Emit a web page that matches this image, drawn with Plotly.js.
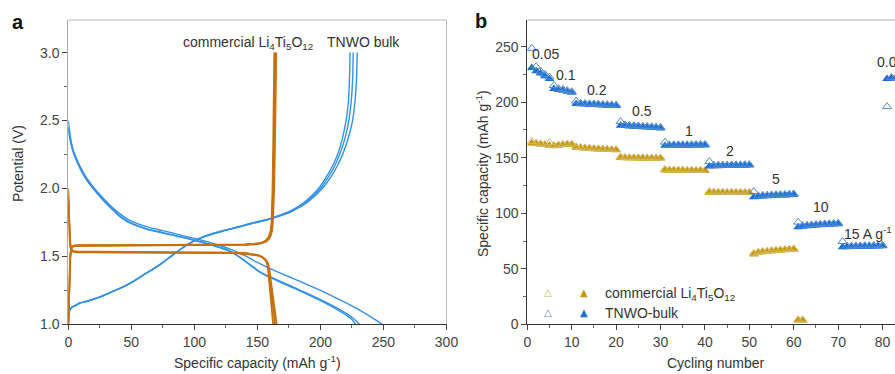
<!DOCTYPE html>
<html><head><meta charset="utf-8">
<script src="https://cdn.plot.ly/plotly-3.0.1.min.js"></script>
<style>html,body{margin:0;padding:0;background:#fff;} #chart{width:895px;height:374px;}</style>
</head><body><div id="chart"></div>
<script>
// ---------- Panel a: galvanostatic curves ----------
// TNWO bulk discharge curves (capacity mAh/g, potential V)
const tnwoD1Cap = [0, 1, 2, 4, 7, 10, 15, 20, 25, 30, 35, 40, 46, 50, 60, 70, 80, 90, 100, 110, 120, 128, 140, 150, 160, 170, 180, 190, 200, 210, 220, 230, 240, 249];
const tnwoD1V   = [2.50, 2.42, 2.36, 2.28, 2.21, 2.15, 2.07, 2.01, 1.955, 1.905, 1.86, 1.82, 1.78, 1.76, 1.725, 1.70, 1.678, 1.655, 1.632, 1.608, 1.58, 1.555, 1.505, 1.455, 1.41, 1.37, 1.33, 1.29, 1.25, 1.205, 1.16, 1.11, 1.055, 1.0];
const tnwoD2Cap = [0, 1, 2, 4, 7, 10, 15, 20, 25, 30, 35, 40, 46, 50, 60, 70, 80, 90, 100, 110, 120, 128, 135, 140, 145, 150, 155, 160, 170, 180, 190, 200, 207, 214, 220, 225, 228];
const tnwoD2V   = [2.45, 2.39, 2.34, 2.27, 2.20, 2.14, 2.06, 2.00, 1.945, 1.895, 1.85, 1.805, 1.765, 1.745, 1.71, 1.685, 1.664, 1.643, 1.62, 1.595, 1.567, 1.54, 1.50, 1.465, 1.43, 1.395, 1.368, 1.345, 1.302, 1.262, 1.218, 1.175, 1.142, 1.105, 1.07, 1.035, 1.0];
const tnwoD3Cap = [0, 1, 2, 4, 7, 10, 15, 20, 25, 30, 35, 40, 46, 50, 60, 70, 80, 90, 100, 110, 120, 128, 135, 140, 145, 150, 155, 160, 170, 180, 190, 200, 207, 214, 220, 226, 231];
const tnwoD3V   = [2.44, 2.38, 2.335, 2.265, 2.195, 2.135, 2.055, 1.995, 1.94, 1.89, 1.845, 1.80, 1.76, 1.742, 1.707, 1.682, 1.661, 1.64, 1.617, 1.592, 1.564, 1.538, 1.50, 1.468, 1.435, 1.40, 1.372, 1.35, 1.308, 1.268, 1.225, 1.182, 1.15, 1.115, 1.082, 1.045, 1.0];
// TNWO bulk charge curves
const tnwoC1Cap = [0, 0.5, 1, 3, 6, 9, 15, 25, 35, 48.7, 60, 72.4, 80, 88.2, 95, 104, 115, 125, 135.6, 145, 156.6, 165, 175, 183, 190, 198.5, 205, 209.3, 214, 217.2, 220, 222, 223, 223.5];
const tnwoC1V   = [1.03, 1.08, 1.10, 1.125, 1.14, 1.155, 1.17, 1.20, 1.24, 1.30, 1.365, 1.437, 1.49, 1.547, 1.59, 1.633, 1.67, 1.695, 1.72, 1.745, 1.77, 1.795, 1.83, 1.87, 1.92, 2.00, 2.09, 2.16, 2.26, 2.36, 2.48, 2.62, 2.80, 3.0];
const tnwoC2Cap = [0, 0.5, 1, 3, 6, 9, 15, 25, 35, 48.7, 60, 72.4, 80, 88.2, 95, 104, 115, 125, 135.6, 145, 156.6, 165, 175, 183, 190, 200, 206, 211, 216, 219.5, 222.5, 224.5, 225.5, 226];
const tnwoC2V   = [1.04, 1.085, 1.10, 1.125, 1.14, 1.155, 1.17, 1.20, 1.24, 1.30, 1.365, 1.437, 1.49, 1.547, 1.59, 1.633, 1.668, 1.693, 1.718, 1.742, 1.767, 1.792, 1.825, 1.865, 1.91, 2.00, 2.08, 2.16, 2.27, 2.37, 2.50, 2.65, 2.80, 3.0];
const tnwoC3Cap = [0, 0.5, 1, 3, 6, 9, 15, 25, 35, 48.7, 60, 72.4, 80, 88.2, 95, 104, 115, 125, 135.6, 145, 156.6, 165, 175, 183, 190, 201.5, 208, 213, 218, 222, 225.5, 227.5, 228.6, 229.2];
const tnwoC3V   = [1.045, 1.09, 1.105, 1.128, 1.142, 1.157, 1.172, 1.202, 1.242, 1.302, 1.367, 1.438, 1.49, 1.546, 1.589, 1.631, 1.666, 1.691, 1.716, 1.74, 1.765, 1.79, 1.82, 1.86, 1.90, 2.00, 2.08, 2.16, 2.26, 2.37, 2.50, 2.65, 2.80, 3.0];
// commercial Li4Ti5O12 discharge curves
const ltoD1Cap = [0, 0.4, 0.8, 1.2, 1.8, 2.5, 3.5, 5, 8, 20, 50, 80, 110, 130, 141, 147, 151, 154, 156, 157.5, 158.3, 159, 160, 161, 162.5];
const ltoD1V   = [2.0, 1.85, 1.72, 1.62, 1.57, 1.55, 1.54, 1.537, 1.535, 1.535, 1.534, 1.533, 1.531, 1.528, 1.523, 1.517, 1.508, 1.495, 1.478, 1.455, 1.42, 1.35, 1.25, 1.14, 1.0];
const ltoD2Cap = [0, 0.4, 0.8, 1.2, 1.8, 2.5, 3.5, 5, 8, 20, 50, 80, 110, 130, 141, 147, 151, 154, 156.5, 158, 159, 159.8, 161, 162.2, 164];
const ltoD2V   = [1.95, 1.82, 1.70, 1.61, 1.565, 1.548, 1.538, 1.534, 1.532, 1.532, 1.531, 1.53, 1.529, 1.526, 1.521, 1.515, 1.507, 1.494, 1.475, 1.45, 1.41, 1.34, 1.24, 1.13, 1.0];
const ltoD3Cap = [0, 0.4, 0.8, 1.2, 1.8, 2.5, 3.5, 5, 8, 20, 50, 80, 110, 130, 141, 147, 151, 154, 157, 158.6, 159.6, 160.5, 161.8, 163.2, 165.3];
const ltoD3V   = [1.9, 1.8, 1.69, 1.60, 1.56, 1.545, 1.536, 1.532, 1.530, 1.530, 1.529, 1.528, 1.527, 1.524, 1.519, 1.513, 1.505, 1.492, 1.47, 1.445, 1.40, 1.33, 1.23, 1.12, 1.0];
// commercial Li4Ti5O12 charge curves
const ltoC1Cap = [0, 0.3, 0.6, 1, 1.5, 2.2, 3, 5, 10, 40, 80, 110, 130, 140, 148, 153, 156, 158, 159.5, 160.5, 161.2, 161.6, 162, 162.5, 163, 163.4];
const ltoC1V   = [1.0, 1.12, 1.25, 1.38, 1.50, 1.56, 1.575, 1.58, 1.582, 1.583, 1.584, 1.585, 1.587, 1.589, 1.593, 1.60, 1.612, 1.63, 1.655, 1.69, 1.75, 1.85, 2.0, 2.3, 2.65, 3.0];
const ltoC2Cap = [0, 0.3, 0.6, 1, 1.5, 2.2, 3, 5, 10, 40, 80, 110, 130, 140, 148, 153, 156.5, 158.5, 160, 161, 161.7, 162.2, 162.6, 163.1, 163.7, 164.2];
const ltoC2V   = [1.0, 1.11, 1.24, 1.37, 1.49, 1.555, 1.572, 1.578, 1.58, 1.581, 1.582, 1.583, 1.585, 1.587, 1.591, 1.598, 1.61, 1.628, 1.652, 1.688, 1.75, 1.85, 2.0, 2.3, 2.65, 3.0];
const ltoC3Cap = [0, 0.3, 0.6, 1, 1.5, 2.2, 3, 5, 10, 40, 80, 110, 130, 140, 148, 153, 157, 159, 160.5, 161.6, 162.3, 162.8, 163.3, 163.9, 164.5, 165];
const ltoC3V   = [1.0, 1.10, 1.23, 1.36, 1.48, 1.55, 1.57, 1.576, 1.578, 1.579, 1.58, 1.581, 1.583, 1.585, 1.589, 1.596, 1.61, 1.627, 1.65, 1.686, 1.75, 1.85, 2.0, 2.3, 2.65, 3.0];

// ---------- Panel b: rate performance ----------
const tnwoCycles = [1,2,3,4,5,6,7,8,9,10,11,12,13,14,15,16,17,18,19,20,21,22,23,24,25,26,27,28,29,30,31,32,33,34,35,36,37,38,39,40,41,42,43,44,45,46,47,48,49,50,51,52,53,54,55,56,57,58,59,60,61,62,63,64,65,66,67,68,69,70,71,72,73,74,75,76,77,78,79,80,81,82,83,84,85];
const tnwoFilled = [
  231, 228, 226, 223.5, 221,
  212, 211, 210.5, 209.5, 208.5,
  198.5, 198.2, 198, 197.8, 197.6, 197.4, 197.2, 197, 196.8, 196.6,
  179, 178.6, 178.3, 178, 177.8, 177.5, 177.3, 177, 176.8, 176.5,
  160.8, 160.8, 160.9, 160.9, 161, 161, 161.1, 161.1, 161.2, 161.2,
  142.3, 142.4, 142.5, 142.6, 142.6, 142.7, 142.8, 142.8, 142.9, 143,
  114.5, 115, 115.3, 115.5, 115.7, 115.9, 116, 116.2, 116.4, 116.6,
  87.5, 88, 88.4, 88.7, 89, 89.3, 89.6, 89.8, 90, 90.3,
  69.5, 69.6, 69.7, 69.8, 69.9, 70, 70, 70.1, 70.2, 70.3,
  221, 221.5, 221.5, 221.6, 221.6];
const tnwoOpen = [
  248.5, 232, 228, 225, 222.5,
  215, 212.2, 211.5, 210.5, 209.5,
  201, 199, 198.8, 198.6, 198.4, 198.2, 198, 197.8, 197.6, 197.4,
  182.5, 179.5, 179.1, 178.8, 178.6, 178.3, 178.1, 177.8, 177.6, 177.3,
  164, 161.6, 161.6, 161.7, 161.7, 161.8, 161.8, 161.9, 161.9, 162,
  146.5, 143.2, 143.3, 143.4, 143.4, 143.5, 143.6, 143.6, 143.7, 143.8,
  119.5, 115.8, 116.1, 116.3, 116.5, 116.7, 116.8, 117, 117.2, 117.4,
  92, 88.8, 89.2, 89.5, 89.8, 90.1, 90.4, 90.6, 90.8, 91.1,
  74.5, 70.4, 70.5, 70.6, 70.7, 70.8, 70.8, 70.9, 71, 71.1,
  196, 222.3, 222.3, 222.4, 222.4];
const ltoCycles = [1,2,3,4,5,6,7,8,9,10,11,12,13,14,15,16,17,18,19,20,21,22,23,24,25,26,27,28,29,30,31,32,33,34,35,36,37,38,39,40,41,42,43,44,45,46,47,48,49,50,51,52,53,54,55,56,57,58,59,60,61,62];
const ltoFilled = [
  163, 162.5, 162, 161.5, 161,
  160.5, 161, 161.5, 161.8, 161.8,
  159, 158.7, 158.4, 158.1, 157.8, 157.6, 157.4, 157.2, 157, 156.8,
  149.8, 149.7, 149.6, 149.6, 149.5, 149.5, 149.4, 149.4, 149.3, 149.3,
  138.6, 138.5, 138.5, 138.4, 138.4, 138.3, 138.3, 138.2, 138.2, 138.1,
  118.6, 118.6, 118.5, 118.5, 118.5, 118.4, 118.4, 118.4, 118.3, 118.3,
  63, 64.5, 65, 65.4, 65.8, 66.2, 66.5, 66.8, 67.1, 67.4,
  3.5, 3.5];
const ltoOpen = [
  164.5, 163, 162.5, 162, 163.5,
  161, 161.5, 162, 162.3, 162.3,
  159.8, 159.2, 158.9, 158.6, 158.3, 158.1, 157.9, 157.7, 157.5, 157.3,
  150.8, 150.2, 150.1, 150.1, 150, 150, 149.9, 149.9, 149.8, 149.8,
  139.5, 139, 139, 138.9, 138.9, 138.8, 138.8, 138.7, 138.7, 138.6,
  119.5, 119.1, 119, 119, 119, 118.9, 118.9, 118.9, 118.8, 118.8,
  64, 65, 65.5, 65.9, 66.3, 66.7, 67, 67.3, 67.6, 67.9,
  4, 4];
// current density labels (A g-1) and where they sit (cycle, capacity)
const rateLabels = ['0.05', '0.1', '0.2', '0.5', '1', '2', '5', '10'];
const rateLabelX = [4.2, 8.7, 15.7, 25.9, 36.3, 45.7, 56.0, 66.1];
const rateLabelY = [243.2, 224.3, 210.7, 191.8, 174, 156, 130.4, 105.2];

// ---------- styling ----------
const FONT = 'Liberation Sans, Arial, Helvetica, sans-serif';
const BLUE_A = 'rgb(52,145,232)';
const ORANGE_A = 'rgb(200,112,12)';
const BLUE_F = 'rgb(28,110,214)';
const BLUE_O = 'rgb(80,140,205)';
const GOLD_F = 'rgb(204,150,0)';
const GOLD_O = 'rgb(206,186,110)';
const W = 895, H = 374;
function px(x) { return x / W; }
function py(y) { return 1 - y / H; }

function lineTrace(xs, ys, color, width, shape) {
  return {type: 'scatter', mode: 'lines', x: xs, y: ys, xaxis: 'x', yaxis: 'y',
    line: {color: color, width: width, shape: shape, smoothing: 1}, showlegend: false, hoverinfo: 'skip'};
}
const traces = [
  lineTrace(tnwoD1Cap, tnwoD1V, BLUE_A, 1.4, 'spline'),
  lineTrace(tnwoD2Cap, tnwoD2V, BLUE_A, 1.4, 'spline'),
  lineTrace(tnwoD3Cap, tnwoD3V, BLUE_A, 1.4, 'spline'),
  lineTrace(tnwoC1Cap, tnwoC1V, BLUE_A, 1.4, 'spline'),
  lineTrace(tnwoC2Cap, tnwoC2V, BLUE_A, 1.4, 'spline'),
  lineTrace(tnwoC3Cap, tnwoC3V, BLUE_A, 1.4, 'spline'),
  lineTrace(ltoD1Cap, ltoD1V, ORANGE_A, 1.8, 'linear'),
  lineTrace(ltoD2Cap, ltoD2V, ORANGE_A, 1.8, 'linear'),
  lineTrace(ltoD3Cap, ltoD3V, ORANGE_A, 1.8, 'linear'),
  lineTrace(ltoC1Cap, ltoC1V, ORANGE_A, 1.8, 'linear'),
  lineTrace(ltoC2Cap, ltoC2V, ORANGE_A, 1.8, 'linear'),
  lineTrace(ltoC3Cap, ltoC3V, ORANGE_A, 1.8, 'linear'),
  {type: 'scatter', mode: 'markers', x: ltoCycles, y: ltoFilled, xaxis: 'x2', yaxis: 'y2',
    marker: {symbol: 'triangle-up', size: 8.5, color: GOLD_F, line: {width: 0}}, showlegend: false, hoverinfo: 'skip'},
  {type: 'scatter', mode: 'markers', x: ltoCycles, y: ltoOpen, xaxis: 'x2', yaxis: 'y2',
    marker: {symbol: 'triangle-up-open', size: 8, color: GOLD_O, line: {width: 1, color: GOLD_O}}, showlegend: false, hoverinfo: 'skip'},
  {type: 'scatter', mode: 'markers', x: tnwoCycles, y: tnwoFilled, xaxis: 'x2', yaxis: 'y2',
    marker: {symbol: 'triangle-up', size: 8.5, color: BLUE_F, line: {width: 0}}, showlegend: false, hoverinfo: 'skip'},
  {type: 'scatter', mode: 'markers', x: tnwoCycles, y: tnwoOpen, xaxis: 'x2', yaxis: 'y2',
    marker: {symbol: 'triangle-up-open', size: 8, color: BLUE_O, line: {width: 1, color: BLUE_O}}, showlegend: false, hoverinfo: 'skip'}
];

const tickFont = {family: FONT, size: 14, color: '#444'};
const baseAxis = {showgrid: false, zeroline: false, showline: true, linewidth: 1,
  ticks: 'outside', ticklen: 5, tickwidth: 1, tickcolor: '#444', tickfont: tickFont, fixedrange: true};

const annotations = [];
function ann(text, x, y, opts) {
  annotations.push(Object.assign({text: text, x: x, y: y, xref: 'paper', yref: 'paper', showarrow: false,
    font: {family: FONT, size: 14, color: '#333'}, xanchor: 'center', yanchor: 'middle'}, opts || {}));
}
// panel letters
ann('<b>a</b>', px(17.5), py(21.5), {font: {family: FONT, size: 20, color: '#111'}});
ann('<b>b</b>', px(481.5), py(21), {font: {family: FONT, size: 20, color: '#111'}});
// axis titles
ann('Potential (V)', px(18), py(164), {textangle: -90});
ann('Specific capacity (mAh g<sup>-1</sup>)', px(257.7), py(362));
ann('Specific capacity (mAh g<sup>-1</sup>)', px(481.5), py(173.5), {textangle: -90});
ann('Cycling number', px(716), py(363));
// panel a curve labels
ann('commercial Li<sub>4</sub>Ti<sub>5</sub>O<sub>12</sub>', px(181), py(43), {xanchor: 'left'});
ann('TNWO bulk', px(325), py(41.7), {xanchor: 'left'});
// panel b rate labels
for (let i = 0; i < rateLabels.length; i++) {
  annotations.push({text: rateLabels[i], x: rateLabelX[i], y: rateLabelY[i], xref: 'x2', yref: 'y2',
    showarrow: false, font: {family: FONT, size: 14, color: '#333'}, xanchor: 'center', yanchor: 'middle'});
}
annotations.push({text: '15 A g<sup>-1</sup>', x: 70.8, y: 82.5, xref: 'x2', yref: 'y2', showarrow: false,
  font: {family: FONT, size: 14, color: '#333'}, xanchor: 'left', yanchor: 'middle'});
annotations.push({text: '0.05', x: 78.2, y: 236.2, xref: 'x2', yref: 'y2', showarrow: false,
  font: {family: FONT, size: 14, color: '#333'}, xanchor: 'left', yanchor: 'middle'});
// panel b legend
const symFont = (c) => ({family: 'DejaVu Sans, sans-serif', size: 10, color: c});
ann('\u25B3', px(547.7), py(292.5), {font: symFont(GOLD_O)});
ann('\u25B2', px(584), py(292.5), {font: symFont(GOLD_F)});
ann('commercial Li<sub>4</sub>Ti<sub>5</sub>O<sub>12</sub>', px(603), py(293.5), {xanchor: 'left'});
ann('\u25B3', px(547.7), py(312.5), {font: symFont(BLUE_O)});
ann('\u25B2', px(584), py(312.5), {font: symFont(BLUE_F)});
ann('TNWO-bulk', px(603), py(312.7), {xanchor: 'left'});

const layout = {
  width: W, height: H, margin: {l: 0, r: 0, t: 0, b: 0},
  paper_bgcolor: '#fff', plot_bgcolor: '#fff', showlegend: false,
  font: {family: FONT, size: 14, color: '#333'},
  xaxis: Object.assign({}, baseAxis, {domain: [px(68.3), px(446.5)], range: [0, 300], dtick: 50, tick0: 0,
    linecolor: '#333', anchor: 'y',
    minor: {ticks: 'outside', ticklen: 3, dtick: 25, tickcolor: '#666'}}),
  yaxis: Object.assign({}, baseAxis, {domain: [py(324.3), py(20)], range: [1.0, 3.24], dtick: 0.5, tick0: 1,
    tickformat: '.1f', linecolor: '#aaa', anchor: 'x',
    minor: {ticks: 'outside', ticklen: 3, dtick: 0.25, tickcolor: '#666'}}),
  xaxis2: Object.assign({}, baseAxis, {domain: [px(527.3), 1], range: [0, 82.8], dtick: 10, tick0: 0,
    linecolor: '#333', anchor: 'y2',
    minor: {ticks: 'outside', ticklen: 3, dtick: 5, tickcolor: '#666'}}),
  yaxis2: Object.assign({}, baseAxis, {domain: [py(324.3), py(20)], range: [0, 274], dtick: 50, tick0: 0,
    linecolor: '#333', anchor: 'x2',
    minor: {ticks: 'outside', ticklen: 3, dtick: 25, tickcolor: '#666'}}),
  shapes: [
    {type: 'line', xref: 'x domain', yref: 'y domain', x0: 0, x1: 1, y0: 1, y1: 1, line: {color: '#bbb', width: 1}},
    {type: 'line', xref: 'x domain', yref: 'y domain', x0: 1, x1: 1, y0: 0, y1: 1, line: {color: '#bbb', width: 1}},
    {type: 'line', xref: 'x2 domain', yref: 'y2 domain', x0: 0, x1: 1, y0: 1, y1: 1, line: {color: '#aaa', width: 1}}
  ],
  annotations: annotations
};

Plotly.newPlot('chart', traces, layout, {displayModeBar: false, staticPlot: true});
</script></body></html>
